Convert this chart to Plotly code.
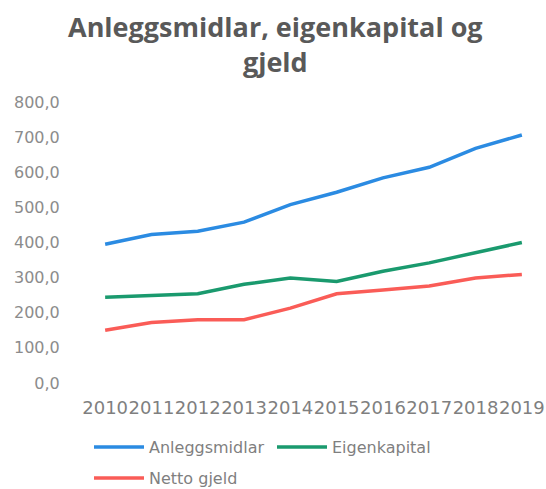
import plotly.graph_objects as go

years = ["2010", "2011", "2012", "2013", "2014", "2015", "2016", "2017", "2018", "2019"]
anleggsmidlar = [395, 423, 432, 458, 508, 543, 584, 614, 668, 706]
eigenkapital = [244, 249, 254, 281, 299, 289, 318, 342, 370, 400]
netto_gjeld = [150, 172, 180, 180, 213, 254, 265, 276, 299, 309]
y_ticks = [0, 100, 200, 300, 400, 500, 600, 700, 800]
y_tick_labels = ["0,0", "100,0", "200,0", "300,0", "400,0", "500,0", "600,0", "700,0", "800,0"]

series = [
    ("Anleggsmidlar", anleggsmidlar, "#2b8be2", "legend"),
    ("Eigenkapital", eigenkapital, "#1a9a6e", "legend"),
    ("Netto gjeld", netto_gjeld, "#fa5c57", "legend2"),
]

fig = go.Figure()
for name, vals, col, lg in series:
    fig.add_trace(go.Scatter(x=years, y=vals, name=name, mode="lines",
                             line=dict(color=col, width=3.5), legend=lg))

W, H = 546, 489
L, R, T, B = 82, 1, 102, 106
pw = W - L - R
ph = H - T - B

fig.add_annotation(
    text="Anleggsmidlar, eigenkapital og<br>gjeld",
    xref="paper", yref="paper", x=(275 - L) / pw, y=1 + (T - 6) / ph,
    xanchor="center", yanchor="top", showarrow=False,
    font=dict(family="Open Sans", size=27, color="#595959", weight="bold"),
)

legfont = dict(family="DejaVu Sans", size=16, color="#7f7f7f")
fig.update_layout(
    width=W, height=H,
    paper_bgcolor="white", plot_bgcolor="white",
    margin=dict(l=L, r=R, t=T, b=B, autoexpand=False),
    showlegend=True,
    xaxis=dict(type="category", showgrid=False, showline=False,
               ticks="outside", ticklen=8, tickcolor="rgba(0,0,0,0)",
               tickfont=dict(family="DejaVu Sans", size=18, color="#7f7f7f"),
               range=[-0.5, 9.5], tickangle=0),
    yaxis=dict(range=[0, 800], tickvals=y_ticks, ticktext=y_tick_labels,
               showgrid=False, zeroline=False, showline=False,
               ticks="outside", ticklen=18, tickcolor="rgba(0,0,0,0)",
               tickfont=dict(family="DejaVu Sans", size=16, color="#8c8c8c")),
    legend=dict(orientation="h", x=(89 - L) / pw, xanchor="left",
                y=-(447 - T - ph) / ph, yanchor="middle",
                itemwidth=50, entrywidth=118, font=legfont, bgcolor="rgba(0,0,0,0)"),
    legend2=dict(orientation="h", x=(89 - L) / pw, xanchor="left",
                 y=-(478 - T - ph) / ph, yanchor="middle",
                 itemwidth=50, font=legfont, bgcolor="rgba(0,0,0,0)"),
)

fig.write_html("out.html", config={"displayModeBar": False},
               post_script="document.body.style.margin='0';")
